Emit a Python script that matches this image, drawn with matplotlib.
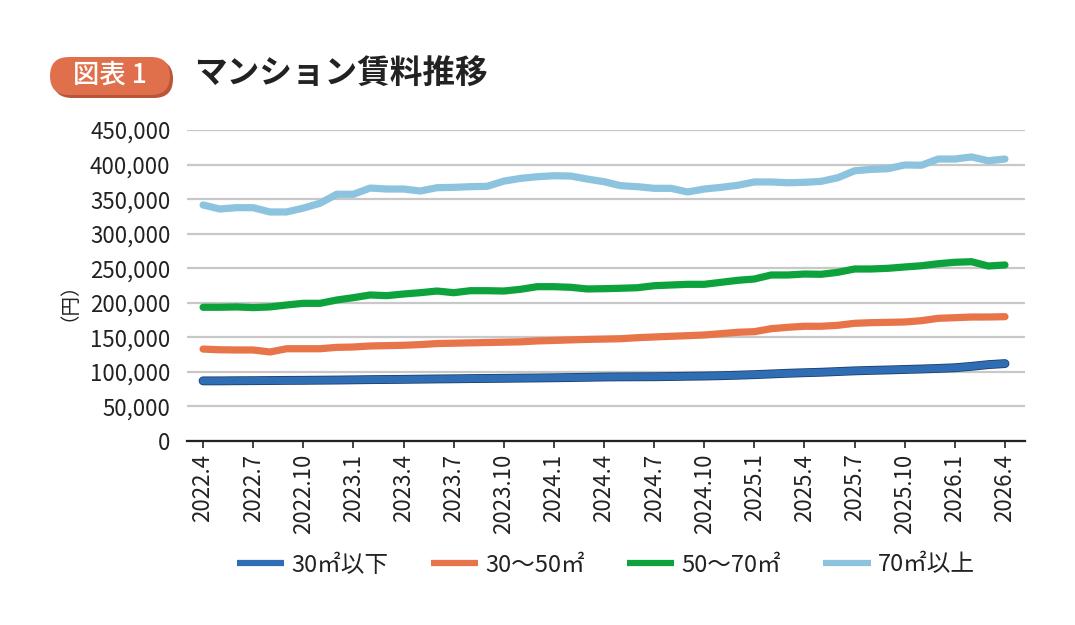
import matplotlib
matplotlib.use("Agg")
import matplotlib.pyplot as plt
import matplotlib.patheffects as pe
from matplotlib.lines import Line2D
from matplotlib.patches import FancyBboxPatch
import numpy as np

plt.rcParams["font.family"] = ["Noto Sans CJK JP", "DejaVu Sans"]

# monthly, 2022.4 - 2026.4
months = ["{}.{}".format(2022 + (m + 3) // 12, (m + 3) % 12 + 1) for m in range(49)]

rent_30_below = [87000, 87000, 87200, 87300, 87500, 87700, 87800, 88000, 88200, 88500,
                 88800, 89000, 89200, 89500, 89800, 90000, 90300, 90500, 90700, 91000,
                 91200, 91500, 91800, 92200, 92600, 92800, 92900, 93000, 93300, 93700,
                 94000, 94500, 95200, 96000, 97000, 98000, 98800, 99500, 100500, 101500,
                 102200, 102800, 103500, 104200, 105000, 106000, 108000, 110500, 112000]
rent_30_50 = [133000, 132000, 131700, 131700, 128800, 133500, 133500, 133500, 135500, 136000,
              137500, 138000, 138500, 139500, 141000, 141500, 142000, 142500, 143000, 143500,
              144800, 145500, 146300, 147000, 147500, 148000, 149500, 150500, 151500, 152400,
              153400, 155300, 157300, 158200, 162500, 164500, 166000, 166000, 167400, 170300,
              171200, 171700, 172200, 174100, 177500, 178400, 179400, 179400, 179900]
rent_50_70 = [193500, 193500, 194000, 193000, 194000, 196800, 199200, 199200, 204000, 207400,
              211300, 210300, 212700, 214600, 217000, 214600, 217500, 217500, 217000, 219500,
              223300, 223300, 222400, 220000, 220400, 221000, 221800, 224700, 225700, 226700,
              226700, 229600, 232500, 234400, 240200, 240200, 241600, 241200, 244100, 248900,
              248900, 249900, 251800, 253600, 256500, 258600, 259400, 253200, 254700]
rent_70_above = [341500, 335700, 337600, 337600, 331400, 331400, 337000, 344000, 357000, 357000,
                 366000, 364600, 364600, 361700, 366500, 367000, 368000, 368500, 376000, 380000,
                 382400, 383800, 383400, 379000, 375200, 369400, 368000, 365600, 365600, 360300,
                 364600, 367000, 370000, 374800, 374800, 373700, 374300, 375700, 381000, 391000,
                 393000, 394000, 399400, 399000, 408000, 408000, 411000, 405500, 408000]

labels = ["30㎡以下", "30～50㎡", "50～70㎡", "70㎡以上"]
colors = ["#2F6EB5", "#E8744A", "#0DA23C", "#8CC3DF"]

fig = plt.figure(figsize=(10.75, 6.25), dpi=100)

# pixel overlay for the title badge
bg = fig.add_axes([0, 0, 1, 1])
bg.set_xlim(0, 1075)
bg.set_ylim(625, 0)
bg.axis("off")
bg.add_patch(FancyBboxPatch((53, 60), 120, 38, boxstyle="round,pad=0,rounding_size=19",
                            fc="#B9563A", ec="none"))
bg.add_patch(FancyBboxPatch((50, 57), 120, 38, boxstyle="round,pad=0,rounding_size=19",
                            fc="#E0704C", ec="none"))
bg.text(110, 75, "図表 1", fontsize=19, fontweight="medium", color="white",
        ha="center", va="center")
bg.text(194, 74, "マンション賃料推移", fontsize=23.5, fontweight="bold",
        color="#222222", ha="left", va="center")

ax = fig.add_axes([0.174, 0.2944, 0.7795, 0.4976])

x = np.arange(len(months))
series = [rent_30_below, rent_30_50, rent_50_70, rent_70_above]
lines = []
for vals, lab, col in zip(series, labels, colors):
    ln, = ax.plot(x, vals, color=col, lw=5.2, label=lab, solid_capstyle="round",
                  solid_joinstyle="round", zorder=3)
    lines.append(ln)
lines[0].set_path_effects([pe.Stroke(linewidth=6.4, foreground="#1d3f6e"), pe.Normal()])

ax.set_xlim(-0.96, 49.2)
ax.set_ylim(0, 450000)
ax.set_yticks(np.arange(0, 450001, 50000))
ax.set_yticklabels(["{:,}".format(v) for v in range(0, 450001, 50000)])
ax.set_xticks(x[::3])
ax.set_xticklabels(months[::3], rotation=90)
ax.grid(axis="y", color="#c8c8c8", lw=1.6, zorder=1)
for s in ["top", "right", "left"]:
    ax.spines[s].set_visible(False)
ax.spines["bottom"].set_color("#222222")
ax.spines["bottom"].set_linewidth(1.6)
ax.spines["bottom"].set_zorder(4)
ax.tick_params(axis="y", length=0, pad=12, labelsize=16, labelcolor="#222222")
ax.tick_params(axis="x", length=5, width=1.2, color="#222222", pad=4,
               labelsize=16, labelcolor="#222222")
ax.set_ylabel("（円）", fontsize=14, color="#222222", labelpad=2)
ax.yaxis.set_label_coords(-0.14, 0.48)

handles = [Line2D([], [], color=c, lw=4.5, solid_capstyle="butt") for c in colors]
fig.legend(handles=handles, labels=labels, loc="center", bbox_to_anchor=(0.5635, 0.096),
           ncol=4, frameon=False, fontsize=17, handlelength=2.0, handletextpad=0.3,
           columnspacing=1.8, labelcolor="#222222")

fig.savefig("out.png", dpi=100)
